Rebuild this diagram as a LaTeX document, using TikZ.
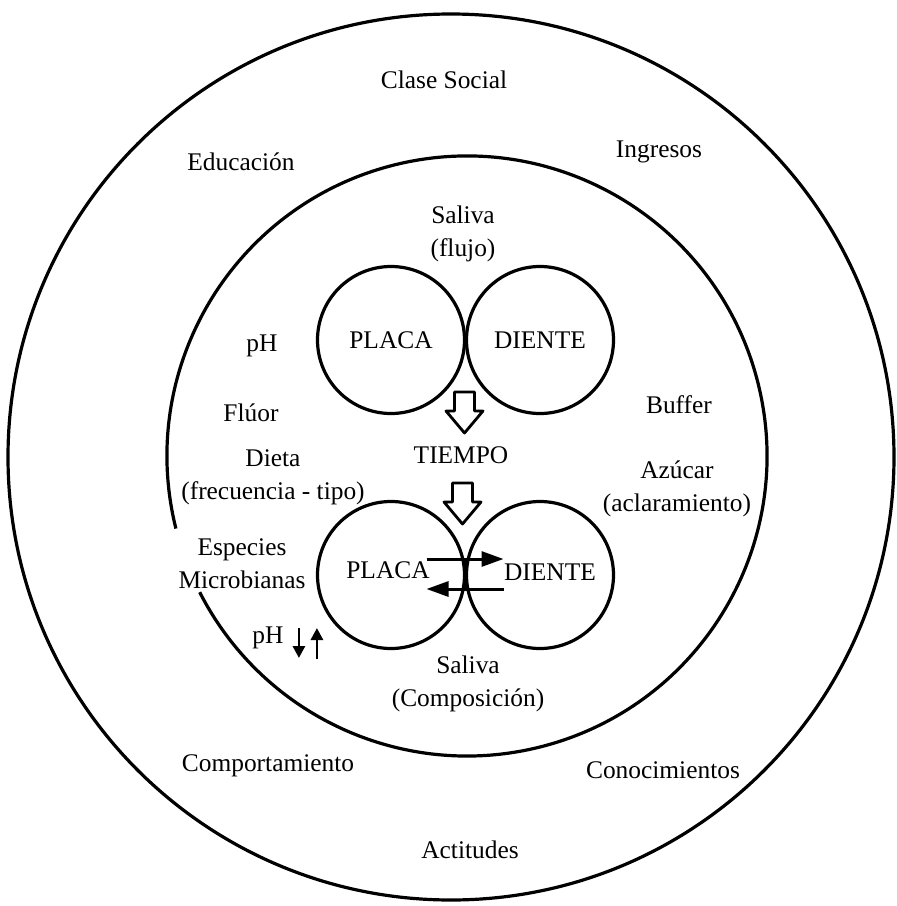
\documentclass[tikz,border=0pt]{standalone}
\usepackage{fontspec}
\setmainfont{Liberation Serif}
\usetikzlibrary{arrows.meta,calc}
\begin{document}
\begin{tikzpicture}[x=0.5pt,y=-0.5pt,line join=round,font=\fontsize{12.7}{16.5}\selectfont,
  ring/.style={draw,circle,line width=1.6pt,minimum size=73.5pt,inner sep=0pt},
  lbl/.style={align=center,inner sep=1pt},
  block/.style={draw,line width=1.4pt,fill=white},
  flow/.style={line width=1.5pt,-{Triangle[length=11pt,width=7.5pt]}},
  ph/.style={line width=1.4pt,-{Triangle[length=6pt,width=6pt]}}]
\def\rout{443}\def\rin{300}
\useasboundingbox (0,0) rectangle (897,906);
\draw[line width=1.6pt] (451,457) circle[radius=\rout];
\draw[line width=1.6pt] (467,456) ++(166:\rin) arc[start angle=166,end angle=513,radius=\rin];
\node[ring] (placaA) at (391,340) {PLACA};
\node[ring] (dienteA) at (540,340) {DIENTE};
\node[ring] (placaB) at (391,575) {};
\node[ring] (dienteB) at (540,575) {};
\node at (388,570) {PLACA};
\node at (550,572) {DIENTE};
\coordinate (touchA) at ($(placaA.east)!0.5!(dienteA.west)$);
\coordinate (touchB) at ($(placaB.east)!0.5!(dienteB.west)$);
\newcommand{\downblock}[1]{\draw[block] (#1) ++(-10,0) -- ++(20,0) -- ++(0,19) -- ++(8.5,0) -- ++(-18.5,22) -- ++(-18.5,-22) -- ++(8.5,0) -- cycle;}
\downblock{$(touchA)+(-1,52)$}
\downblock{$(touchB)+(-3,-92)$}
\node[lbl] (tiempo) at (461,455) {TIEMPO};
\coordinate (pb1) at ($(touchB)+(-39,-16)$);
\coordinate (db1) at ($(touchB)+(38,-16)$);
\coordinate (pb2) at ($(touchB)+(-39,14)$);
\coordinate (db2) at ($(touchB)+(38,14)$);
\draw[flow] (pb1) -- (db1);
\draw[flow] (db2) -- (pb2);
\draw[line width=2pt] ($(touchB)+(0,-16)$) -- ($(touchB)+(0,14)$);
\node[lbl] (clase) at (444,80) {Clase Social};
\node[lbl] (educ) at (241,162) {Educación};
\node[lbl] (ingr) at (659,152) {Ingresos};
\node[lbl] (salivaA) at (463,234) {Saliva\\(flujo)};
\node[lbl] (phA) at (262,346) {pH};
\node[lbl] (fluor) at (251,413) {Flúor};
\node[lbl] (buffer) at (679,405) {Buffer};
\node[lbl] (dieta) at (273,477) {Dieta\\(frecuencia - tipo)};
\node[lbl] (azucar) at (677,489) {Azúcar\\(aclaramiento)};
\node[lbl] (especies) at (242,564) {Especies\\Microbianas};
\node[lbl] (phB) at (268,638) {pH};
\coordinate (dn) at ($(phB.east)+(13,-10)$);
\coordinate (up) at ($(phB.east)+(31,21)$);
\draw[ph] (dn) -- ++(0,30);
\draw[ph] (up) -- ++(0,-31);
\node[lbl] (salivaB) at (468,684) {Saliva\\(Composición)};
\node[lbl] (comp) at (268,766) {Comportamiento};
\node[lbl] (conoc) at (663,770) {Conocimientos};
\node[lbl] (actit) at (470,850) {Actitudes};
\end{tikzpicture}
\end{document}
